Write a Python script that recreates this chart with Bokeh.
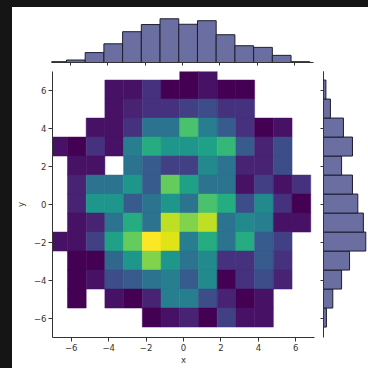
from bokeh.plotting import figure
from bokeh.models import Range1d, FixedTicker, LinearColorMapper, ColumnDataSource, Spacer
from bokeh.layouts import column, row
from bokeh.palettes import Viridis256
from bokeh.transform import transform
from bokeh.embed import file_html
from bokeh.resources import INLINE

# ---- data ----
x_edges = [-7.2, -6.2, -5.2, -4.2, -3.2, -2.2, -1.2, -0.2, 0.8, 1.8, 2.8, 3.8, 4.8, 5.8, 6.8]
y_edges = [-6.45, -5.45, -4.45, -3.45, -2.45, -1.45, -0.45, 0.55, 1.55, 2.55, 3.55, 4.55, 5.55, 6.55, 7.55]

# 2D histogram counts, top row first (0 = empty cell)
hist2d_counts = [
    [0, 0, 0, 0, 0, 0, 0, 1, 2, 0, 0, 0, 0, 0],
    [0, 0, 0, 2, 2, 4, 1, 1, 2, 1, 1, 0, 0, 0],
    [0, 0, 0, 2, 3, 4, 4, 5, 6, 4, 4, 0, 0, 0],
    [0, 0, 2, 2, 4, 9, 9, 16, 10, 7, 4, 1, 2, 0],
    [2, 1, 4, 2, 10, 14, 12, 12, 13, 15, 7, 3, 6, 0],
    [0, 2, 2, 0, 9, 7, 5, 5, 11, 9, 3, 3, 6, 0],
    [0, 3, 9, 9, 12, 7, 17, 13, 9, 9, 2, 5, 2, 4],
    [0, 3, 12, 12, 7, 9, 12, 9, 16, 14, 6, 11, 4, 1],
    [0, 2, 3, 9, 14, 9, 20, 18, 20, 9, 11, 10, 2, 2],
    [2, 2, 5, 13, 17, 22, 21, 10, 14, 9, 14, 7, 5, 0],
    [0, 1, 1, 8, 12, 18, 12, 9, 11, 4, 4, 7, 4, 0],
    [0, 1, 2, 6, 7, 9, 10, 7, 11, 1, 4, 6, 3, 0],
    [0, 1, 0, 2, 1, 3, 10, 10, 6, 3, 1, 2, 0, 0],
    [0, 0, 0, 0, 0, 1, 2, 3, 1, 5, 2, 2, 0, 0],
]

# marginal histograms
x_marginal_counts = [3, 9, 36, 68, 112, 138, 159, 139, 152, 101, 61, 55, 26, 3]
y_marginal_counts = [11, 35, 68, 98, 159, 150, 129, 109, 68, 109, 75, 26, 9, 0]  # bottom to top

tick_values = [-6, -4, -2, 0, 2, 4, 6]
tick_labels = ["\u22126", "\u22124", "\u22122", "0", "2", "4", "6"]

# ---- style ----
FONT = "DejaVu Sans"
TXT = "#333333"
BAR_FILL = "#6b6ea0"
BAR_LINE = "#1e1e30"
PAGE_BG = "#151515"

xr = Range1d(-7, 7)
yr = Range1d(-7, 7)

cells = dict(left=[], right=[], bottom=[], top=[], count=[])
n_rows = len(hist2d_counts)
for i, vals in enumerate(hist2d_counts):
    r = n_rows - 1 - i
    for j, c in enumerate(vals):
        if c > 0:
            cells["left"].append(x_edges[j])
            cells["right"].append(x_edges[j + 1])
            cells["bottom"].append(y_edges[r])
            cells["top"].append(y_edges[r + 1])
            cells["count"].append(c)
src = ColumnDataSource(cells)
mapper = LinearColorMapper(palette=Viridis256, low=min(cells["count"]), high=max(cells["count"]))


def style_axis(ax, labels=True):
    ax.ticker = FixedTicker(ticks=tick_values, minor_ticks=[])
    ax.axis_line_color = TXT
    ax.major_tick_line_color = TXT
    ax.major_tick_in = 0
    ax.major_tick_out = 4
    ax.minor_tick_line_color = None
    if labels:
        ax.major_label_overrides = dict(zip(tick_values, tick_labels))
        ax.major_label_text_font = FONT
        ax.major_label_text_font_size = "8.5px"
        ax.major_label_text_color = TXT
        ax.major_label_standoff = 2
        ax.axis_label_text_font = FONT
        ax.axis_label_text_font_size = "8.5px"
        ax.axis_label_text_font_style = "normal"
        ax.axis_label_text_color = TXT
        ax.axis_label_standoff = 2
    else:
        ax.major_tick_out = 3
        ax.major_label_text_color = None
        ax.major_label_text_font_size = "1px"
        ax.major_label_standoff = 0


main = figure(frame_width=262, frame_height=266, x_range=xr, y_range=yr,
              output_backend="svg", toolbar_location=None,
              min_border_left=39, min_border_right=5, min_border_top=5, min_border_bottom=31,
              x_axis_label="x", y_axis_label="y")
main.quad(source=src, left="left", right="right", bottom="bottom", top="top",
          fill_color=transform("count", mapper), line_color=transform("count", mapper), line_width=0.5)
main.grid.visible = False
main.outline_line_color = None
style_axis(main.xaxis[0])
style_axis(main.yaxis[0])
main.xaxis[0].axis_label_standoff = 1
main.yaxis[0].axis_label_standoff = 5

top = figure(frame_width=262, frame_height=55, x_range=xr, y_range=Range1d(0, 200),
             output_backend="svg", toolbar_location=None, y_axis_location=None,
             min_border_left=39, min_border_right=5, min_border_top=0, min_border_bottom=4)
top.quad(left=x_edges[:-1], right=x_edges[1:], bottom=0, top=x_marginal_counts,
         fill_color=BAR_FILL, line_color=BAR_LINE, line_width=1)
top.grid.visible = False
top.outline_line_color = None
style_axis(top.xaxis[0], labels=False)

right = figure(frame_width=46, frame_height=266, x_range=Range1d(0, 173), y_range=yr,
               output_backend="svg", toolbar_location=None, x_axis_location=None,
               min_border_left=4, min_border_right=0, min_border_top=5, min_border_bottom=31)
right.quad(left=0, right=y_marginal_counts, bottom=y_edges[:-1], top=y_edges[1:],
           fill_color=BAR_FILL, line_color=BAR_LINE, line_width=1)
right.grid.visible = False
right.outline_line_color = None
style_axis(right.yaxis[0], labels=False)

inner = column(row(top, Spacer(width=50, height=59)), row(main, right))
bg = {"background-color": PAGE_BG}
p = column(Spacer(width=368, height=7, styles=bg),
           row(Spacer(width=12, height=361, styles=bg), inner))

open("out.html", "w").write(file_html(p, INLINE))
